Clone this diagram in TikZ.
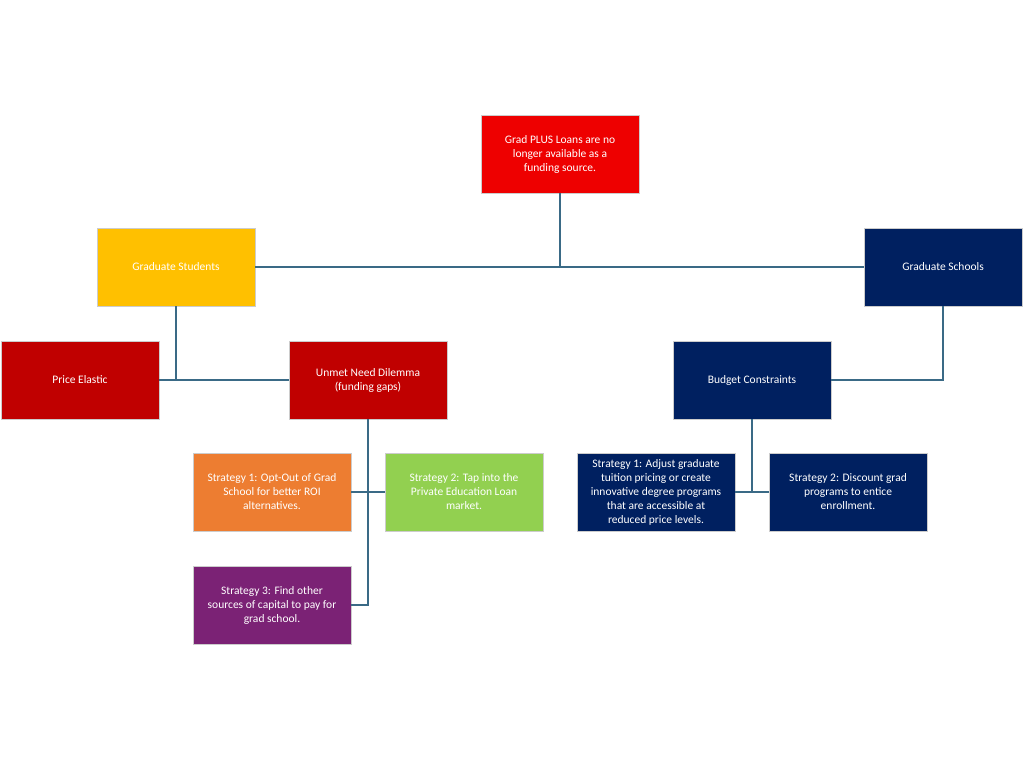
\documentclass[tikz,border=0pt]{standalone}
\usepackage{fontspec}
\setmainfont{Carlito}
\usepackage{tikz}
\usetikzlibrary{positioning}

\definecolor{plusred}{HTML}{EE0000}
\definecolor{darkred}{HTML}{C00000}
\definecolor{gold}{HTML}{FFC000}
\definecolor{navy}{HTML}{002060}
\definecolor{orange}{HTML}{ED7D31}
\definecolor{lime}{HTML}{92D050}
\definecolor{plum}{HTML}{7B2275}
\definecolor{linkblue}{HTML}{3A6A86}

\tikzset{
    box/.style = {draw = white!80!black, line width = 0.8pt, text = white,
        minimum width = 158pt, minimum height = 78pt, inner sep = 2pt,
        align = center, font = \fontsize{11.5}{14}\selectfont},
    link/.style = {draw = linkblue, line width = 1.4pt}
}

\begin{document}
\begin{tikzpicture}[x = 1pt, y = -1pt]
    \useasboundingbox (0, 0) rectangle (1024, 760);

    %% boxes
    \node[box, fill = plusred] (plus) at (560, 154)
        {Grad PLUS Loans are no\\longer available as a\\funding source.};
    \node[box, fill = gold] (students) at (176, 267) {Graduate Students};
    \node[box, fill = navy] (schools) at (943, 267) {Graduate Schools};
    \node[box, fill = darkred] (elastic) at (80, 380) {Price Elastic};
    \node[box, fill = darkred] (unmet) at (368, 380) {Unmet Need Dilemma\\(funding gaps)};
    \node[box, fill = navy] (budget) at (752, 380) {Budget Constraints};
    \node[box, fill = orange] (optout) at (272, 492)
        {Strategy 1: Opt-Out of Grad\\School for better ROI\\alternatives.};
    \node[box, fill = lime] (private) at (464, 492)
        {Strategy 2: Tap into the\\Private Education Loan\\market.};
    \node[box, fill = plum] (capital) at (272, 605)
        {Strategy 3: Find other\\sources of capital to pay for\\grad school.};
    \node[box, fill = navy] (adjust) at (656, 492)
        {Strategy 1: Adjust graduate\\tuition pricing or create\\innovative degree programs\\that are accessible at\\reduced price levels.};
    \node[box, fill = navy] (discount) at (848, 492)
        {Strategy 2: Discount grad\\programs to entice\\enrollment.};

    %% connectors
    \draw[link] (plus.south) -- (plus.south |- students.east);
    \draw[link] (students.east) -- (schools.west);
    \draw[link] (students.south) -- (students.south |- elastic.east);
    \draw[link] (elastic.east) -- (unmet.west);
    \draw[link] (schools.south) |- (budget.east);
    \draw[link] (unmet.south) |- (capital.east);
    \draw[link] (optout.east) -- (private.west);
    \draw[link] (budget.south) -- (budget.south |- adjust.east);
    \draw[link] (adjust.east) -- (discount.west);
\end{tikzpicture}
\end{document}
